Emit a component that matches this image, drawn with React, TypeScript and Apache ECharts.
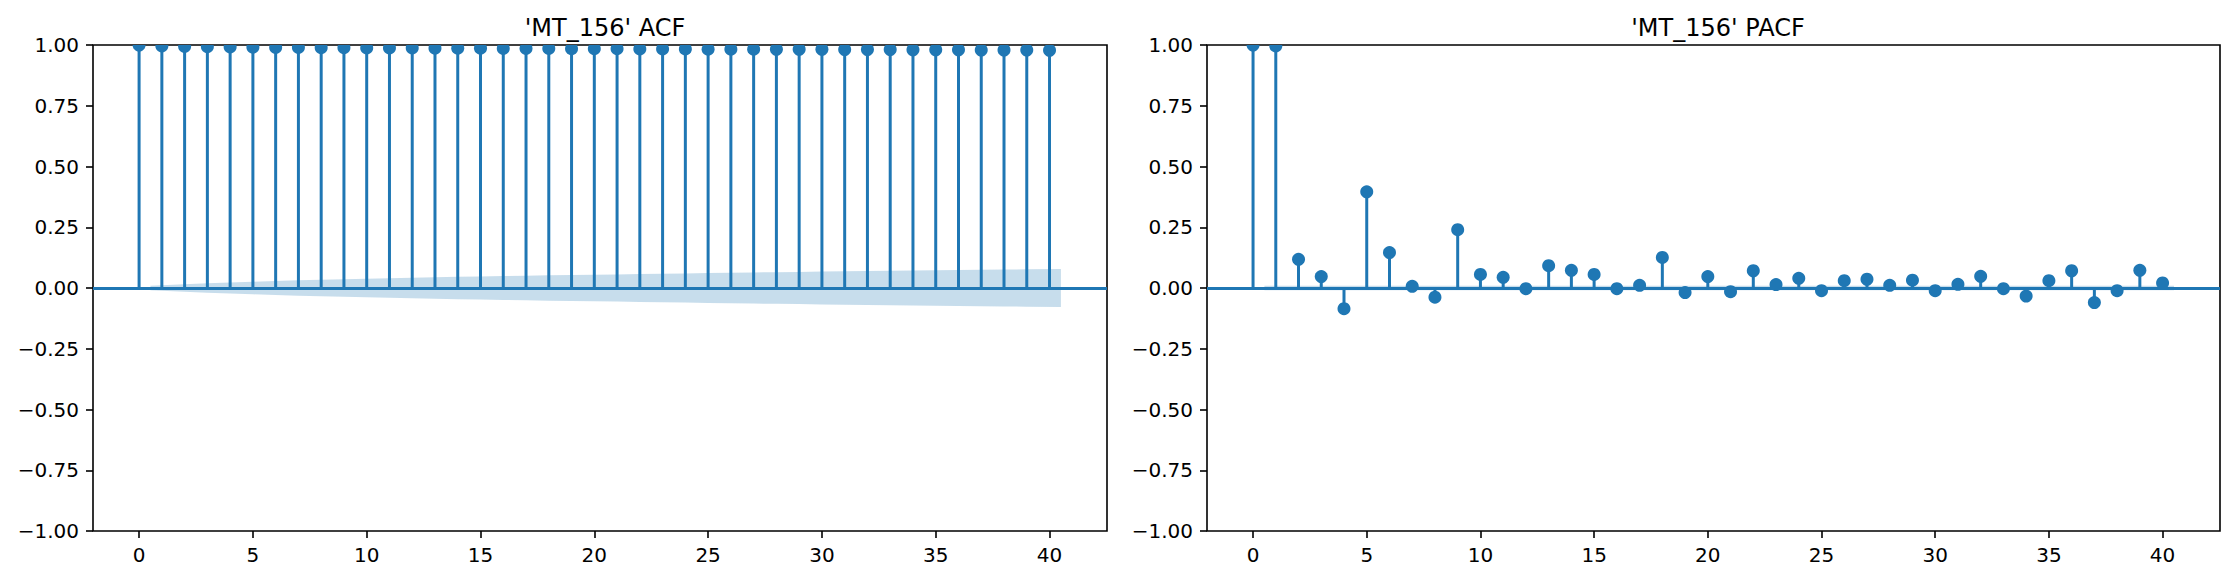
import { useEffect, useRef } from "react";
import * as echarts from "echarts";

// lags 0..40
const lags = [
  0, 1, 2, 3, 4, 5, 6, 7, 8, 9, 10, 11, 12, 13, 14, 15, 16, 17, 18, 19, 20,
  21, 22, 23, 24, 25, 26, 27, 28, 29, 30, 31, 32, 33, 34, 35, 36, 37, 38, 39, 40,
];

const acfValues = [
  1.0, 0.996, 0.994, 0.993, 0.992, 0.991, 0.99, 0.99, 0.989, 0.989, 0.988,
  0.988, 0.988, 0.987, 0.987, 0.987, 0.986, 0.986, 0.986, 0.985, 0.985,
  0.985, 0.984, 0.984, 0.984, 0.983, 0.983, 0.983, 0.982, 0.982, 0.982,
  0.981, 0.981, 0.981, 0.98, 0.98, 0.98, 0.979, 0.979, 0.979, 0.978,
];

const pacfValues = [
  1.0, 0.996, 0.118, 0.047, -0.085, 0.396, 0.146, 0.007, -0.038, 0.24, 0.056,
  0.044, -0.003, 0.092, 0.073, 0.056, -0.003, 0.011, 0.126, -0.019, 0.047,
  -0.015, 0.071, 0.014, 0.04, -0.011, 0.03, 0.036, 0.011, 0.032, -0.011,
  0.015, 0.048, -0.003, -0.033, 0.03, 0.071, -0.06, -0.011, 0.073, 0.021,
];

// confidence band x positions (first and last lag shifted by half a step)
const bandLags = [
  0.5, 2, 3, 4, 5, 6, 7, 8, 9, 10, 11, 12, 13, 14, 15, 16, 17, 18, 19, 20,
  21, 22, 23, 24, 25, 26, 27, 28, 29, 30, 31, 32, 33, 34, 35, 36, 37, 38, 39, 40.5,
];

const acfBand = [
  0.009, 0.015, 0.02, 0.023, 0.026, 0.029, 0.032, 0.034, 0.036, 0.038, 0.04,
  0.042, 0.044, 0.046, 0.047, 0.049, 0.05, 0.052, 0.053, 0.055, 0.056, 0.058,
  0.059, 0.06, 0.062, 0.063, 0.064, 0.065, 0.066, 0.068, 0.069, 0.07, 0.071,
  0.072, 0.073, 0.074, 0.075, 0.076, 0.077, 0.078,
];

const pacfBand = [
  0.009, 0.009, 0.009, 0.009, 0.009, 0.009, 0.009, 0.009, 0.009, 0.009, 0.009,
  0.009, 0.009, 0.009, 0.009, 0.009, 0.009, 0.009, 0.009, 0.009, 0.009, 0.009,
  0.009, 0.009, 0.009, 0.009, 0.009, 0.009, 0.009, 0.009, 0.009, 0.009, 0.009,
  0.009, 0.009, 0.009, 0.009, 0.009, 0.009, 0.009,
];

const xTicks = [0, 5, 10, 15, 20, 25, 30, 35, 40];
const titles = ["'MT_156' ACF", "'MT_156' PACF"];

const BLUE = "#1f77b4";
const FONT = "DejaVu Sans";

const fmtY = (v: number) =>
  (v < 0 ? "\u2212" : "") + Math.abs(v).toFixed(2);

const App = () => {
  const chartRef = useRef<HTMLDivElement>(null);

  useEffect(() => {
    if (!chartRef.current) return;
    const chart = echarts.init(chartRef.current, undefined, { renderer: "svg" });

    const grids = [
      { left: 93, right: 1128, top: 45, bottom: 50 },
      { left: 1207, right: 15, top: 45, bottom: 50 },
    ];

    const xAxis = grids.map((_, i) => ({
      type: "value" as const,
      gridIndex: i,
      min: -2.025,
      max: 42.525,
      splitLine: { show: false },
      axisLine: { show: false, onZero: false },
      axisTick: {
        show: true,
        length: 7,
        customValues: xTicks,
        lineStyle: { color: "#000", width: 1.6 },
      },
      axisLabel: {
        customValues: xTicks,
        margin: 14,
        fontFamily: FONT,
        fontSize: 20,
        color: "#000",
      },
    }));

    const yAxis = grids.map((_, i) => ({
      type: "value" as const,
      gridIndex: i,
      min: -1,
      max: 1,
      interval: 0.25,
      splitLine: { show: false },
      axisLine: { show: false, onZero: false },
      axisTick: {
        show: true,
        length: 7,
        lineStyle: { color: "#000", width: 1.6 },
      },
      axisLabel: {
        margin: 14,
        fontFamily: FONT,
        fontSize: 20,
        color: "#000",
        formatter: fmtY,
      },
    }));

    const makeBand = (band: number[], i: number) => ({
      type: "custom" as const,
      xAxisIndex: i,
      yAxisIndex: i,
      z: 1,
      silent: true,
      data: [0],
      renderItem: (_params: any, api: any) => {
        const upper = bandLags.map((x, k) => api.coord([x, band[k]]));
        const lower = bandLags
          .map((x, k) => api.coord([x, -band[k]]))
          .reverse();
        return {
          type: "polygon",
          shape: { points: upper.concat(lower) },
          style: { fill: "rgba(31,119,180,0.25)" },
        };
      },
    });

    const makeStems = (values: number[], i: number) => ({
      type: "custom" as const,
      xAxisIndex: i,
      yAxisIndex: i,
      z: 3,
      clip: true,
      silent: true,
      data: lags.map((l, k) => [l, values[k]]),
      encode: { x: 0, y: 1 },
      renderItem: (_params: any, api: any) => {
        const x = api.value(0);
        const y = api.value(1);
        const p0 = api.coord([x, 0]);
        const p1 = api.coord([x, y]);
        return {
          type: "group",
          children: [
            {
              type: "line",
              shape: { x1: p0[0], y1: p0[1], x2: p1[0], y2: p1[1] },
              style: { stroke: BLUE, lineWidth: 3 },
            },
            {
              type: "circle",
              shape: { cx: p1[0], cy: p1[1], r: 6.5 },
              style: { fill: BLUE },
            },
          ],
        };
      },
      markLine: {
        silent: true,
        symbol: "none",
        label: { show: false },
        lineStyle: { color: BLUE, width: 3, type: "solid" },
        data: [{ yAxis: 0 }],
      },
    });

    chart.setOption({
      animation: false,
      title: titles.map((t, i) => ({
        text: t,
        left: i === 0 ? 600 : 1713,
        top: 11,
        textAlign: "center",
        textStyle: {
          fontFamily: FONT,
          fontSize: 24,
          fontWeight: "normal",
          color: "#000",
        },
      })),
      grid: grids.map((g) => ({
        ...g,
        show: true,
        borderColor: "#000",
        borderWidth: 1.6,
        backgroundColor: "transparent",
      })),
      xAxis,
      yAxis,
      series: [
        makeBand(acfBand, 0),
        makeStems(acfValues, 0),
        makeBand(pacfBand, 1),
        makeStems(pacfValues, 1),
      ],
    });

    return () => {
      chart.dispose();
    };
  }, []);

  return (
    <div
      ref={chartRef}
      style={{
        position: "absolute",
        left: 0,
        top: 0,
        width: 2235,
        height: 581,
        background: "#fff",
      }}
    />
  );
};

export default App;
